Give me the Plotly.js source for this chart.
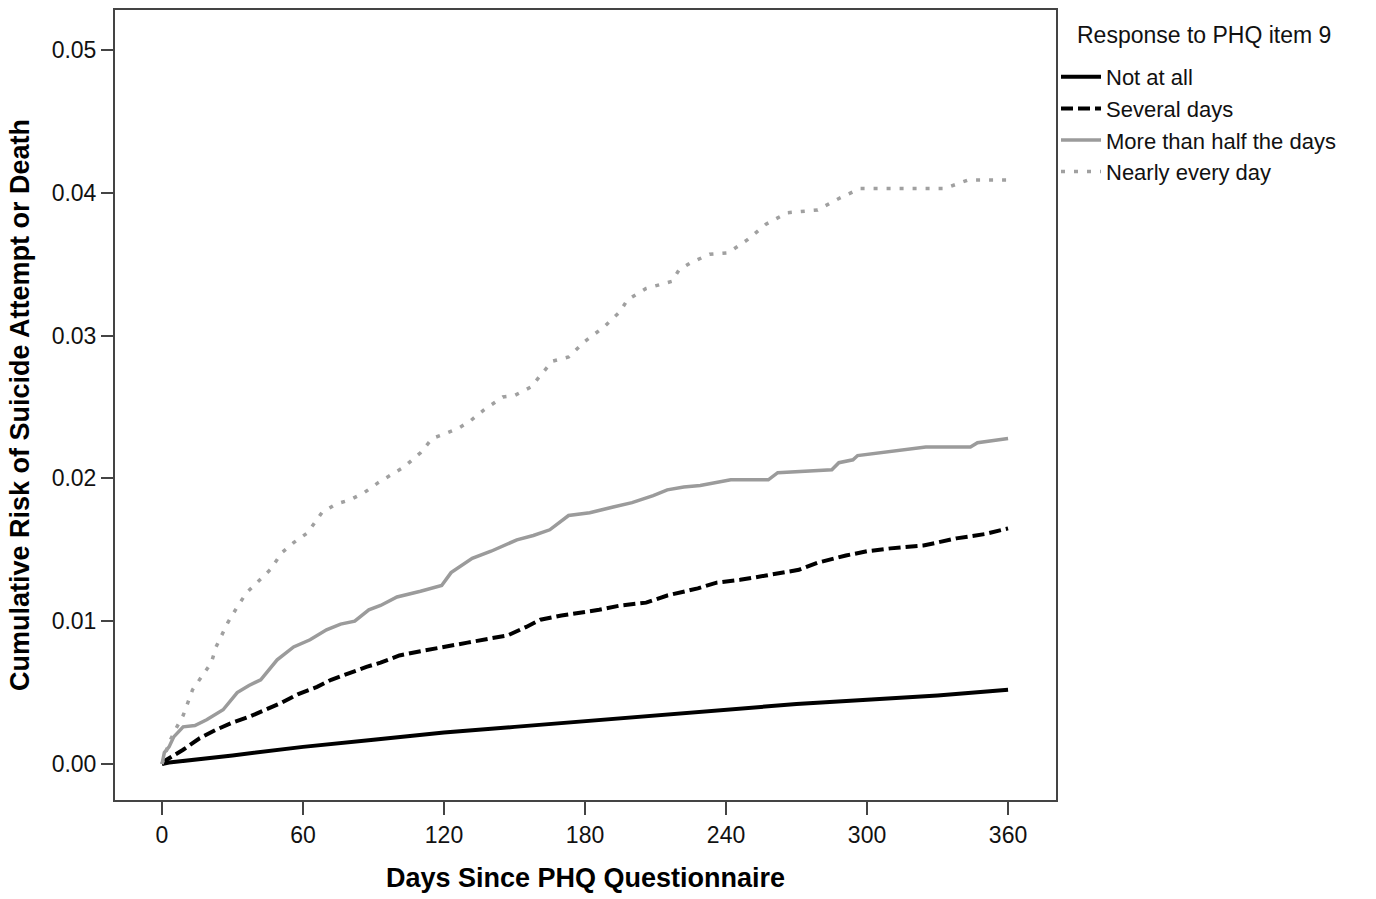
<!DOCTYPE html>
<html>
<head>
<meta charset="utf-8">
<script src="https://cdn.plot.ly/plotly-3.0.1.min.js"></script>
<style>html,body{margin:0;padding:0;background:#fff;}#chart{width:1376px;height:899px;}</style>
</head>
<body>
<div id="chart"></div>
<script>
// Not at all
const daysNotAtAll = [0, 3, 30, 60, 90, 120, 150, 180, 210, 240, 270, 300, 330, 360];
const riskNotAtAll = [0, 0.0001, 0.0006, 0.0012, 0.0017, 0.0022, 0.0026, 0.0030, 0.0034, 0.0038, 0.0042, 0.0045, 0.0048, 0.0052];

// Several days
const daysSeveral = [0, 2, 5, 9, 16, 23, 30, 37, 44, 51, 58, 66, 72, 80, 87, 93, 101, 110, 121, 130, 140, 147, 155, 161, 170, 178, 186, 195, 206, 215, 228, 236, 246, 257, 271, 279, 291, 300, 310, 324, 338, 350, 360];
const riskSeveral = [0, 0.0003, 0.0006, 0.0010, 0.0018, 0.0024, 0.0029, 0.0033, 0.0038, 0.0043, 0.0049, 0.0054, 0.0059, 0.0064, 0.0068, 0.0071, 0.0076, 0.0079, 0.0082, 0.0085, 0.0088, 0.0090, 0.0096, 0.0101, 0.0104, 0.0106, 0.0108, 0.0111, 0.0113, 0.0118, 0.0123, 0.0127, 0.0129, 0.0132, 0.0136, 0.0141, 0.0146, 0.0149, 0.0151, 0.0153, 0.0158, 0.0161, 0.0165];

// More than half the days
const daysHalf = [0, 1, 3, 5, 9, 14, 19, 26, 32, 37, 42, 49, 56, 63, 70, 76, 82, 88, 93, 100, 110, 119, 123, 132, 140, 151, 158, 165, 173, 182, 192, 200, 209, 215, 222, 229, 242, 258, 262, 285, 288, 294, 296, 305, 314, 325, 344, 347, 360];
const riskHalf = [0, 0.0008, 0.0012, 0.0019, 0.0026, 0.0027, 0.0031, 0.0038, 0.0050, 0.0055, 0.0059, 0.0073, 0.0082, 0.0087, 0.0094, 0.0098, 0.0100, 0.0108, 0.0111, 0.0117, 0.0121, 0.0125, 0.0134, 0.0144, 0.0149, 0.0157, 0.0160, 0.0164, 0.0174, 0.0176, 0.0180, 0.0183, 0.0188, 0.0192, 0.0194, 0.0195, 0.0199, 0.0199, 0.0204, 0.0206, 0.0211, 0.0213, 0.0216, 0.0218, 0.0220, 0.0222, 0.0222, 0.0225, 0.0228];

// Nearly every day
const daysNearly = [0, 3, 6, 9, 13, 16, 21, 23, 28, 32, 36, 41, 46, 51, 56, 62, 68, 74, 80, 86, 92, 97, 103, 110, 115, 120, 126, 131, 137, 145, 150, 157, 166, 173, 180, 188, 195, 198, 206, 217, 220, 225, 233, 241, 249, 257, 266, 279, 288, 297, 333, 343, 360];
const riskNearly = [0, 0.0015, 0.0025, 0.0034, 0.0052, 0.0059, 0.0071, 0.0082, 0.0099, 0.0110, 0.0120, 0.0128, 0.0136, 0.0148, 0.0155, 0.0162, 0.0176, 0.0182, 0.0185, 0.0190, 0.0197, 0.0202, 0.0208, 0.0218, 0.0228, 0.0231, 0.0235, 0.0240, 0.0248, 0.0257, 0.0258, 0.0264, 0.0282, 0.0285, 0.0296, 0.0306, 0.0317, 0.0325, 0.0333, 0.0338, 0.0346, 0.0351, 0.0357, 0.0358, 0.0367, 0.0378, 0.0386, 0.0388, 0.0396, 0.0403, 0.0403, 0.0409, 0.0409];

const xTicks = [0, 60, 120, 180, 240, 300, 360];
const yTicks = [0, 0.01, 0.02, 0.03, 0.04, 0.05];
const yTickLabels = ['0.00', '0.01', '0.02', '0.03', '0.04', '0.05'];

const FONT = 'Liberation Sans, Arial, sans-serif';

const traces = [
  {x: daysNotAtAll, y: riskNotAtAll, name: 'Not at all', mode: 'lines',
   line: {color: '#000000', width: 4, shape: 'linear'}},
  {x: daysSeveral, y: riskSeveral, name: 'Several days', mode: 'lines',
   line: {color: '#000000', width: 4, dash: '12px,5px', shape: 'linear'}},
  {x: daysHalf, y: riskHalf, name: 'More than half the days', mode: 'lines',
   line: {color: '#9b9b9b', width: 3.5, shape: 'linear'}},
  {x: daysNearly, y: riskNearly, name: 'Nearly every day', mode: 'lines',
   line: {color: '#a0a0a0', width: 3.5, dash: '4px,9px', shape: 'linear'}}
];

const layout = {
  width: 1376, height: 899,
  paper_bgcolor: '#ffffff', plot_bgcolor: '#ffffff',
  margin: {l: 115, r: 320, t: 10, b: 99},
  font: {family: FONT, size: 23, color: '#111111'},
  showlegend: true,
  legend: {
    x: 1.0, xanchor: 'left', y: 0.9418, yanchor: 'top',
    font: {family: FONT, size: 22, color: '#111'},
    itemwidth: 40, tracegroupgap: 0, bgcolor: 'rgba(0,0,0,0)'
  },
  annotations: [{
    xref: 'paper', yref: 'paper', x: 1.0202, y: 0.9684,
    xanchor: 'left', yanchor: 'middle', showarrow: false,
    text: 'Response to PHQ item 9',
    font: {family: FONT, size: 23, color: '#111'}
  }],
  xaxis: {
    range: [-20, 380.4], tickvals: xTicks, ticktext: xTicks.map(String),
    showgrid: false, zeroline: false, showline: true, mirror: true,
    linecolor: '#444', linewidth: 2, ticks: 'outside', ticklen: 13, tickwidth: 2, tickcolor: '#444',
    tickfont: {family: FONT, size: 23, color: '#111'},
    title: {text: '<b>Days Since PHQ Questionnaire</b>', font: {family: FONT, size: 27, color: '#000'}, standoff: 22}
  },
  yaxis: {
    range: [-0.00252, 0.0528], tickvals: yTicks, ticktext: yTickLabels,
    showgrid: false, zeroline: false, showline: true, mirror: true,
    linecolor: '#444', linewidth: 2, ticks: 'outside', ticklen: 12, tickwidth: 2, tickcolor: '#444',
    tickfont: {family: FONT, size: 23, color: '#111'},
    title: {text: '<b>Cumulative Risk of Suicide Attempt or Death</b>', font: {family: FONT, size: 27, color: '#000'}, standoff: 14}
  }
};

Plotly.newPlot('chart', traces, layout, {displayModeBar: false, staticPlot: true});
</script>
</body>
</html>
